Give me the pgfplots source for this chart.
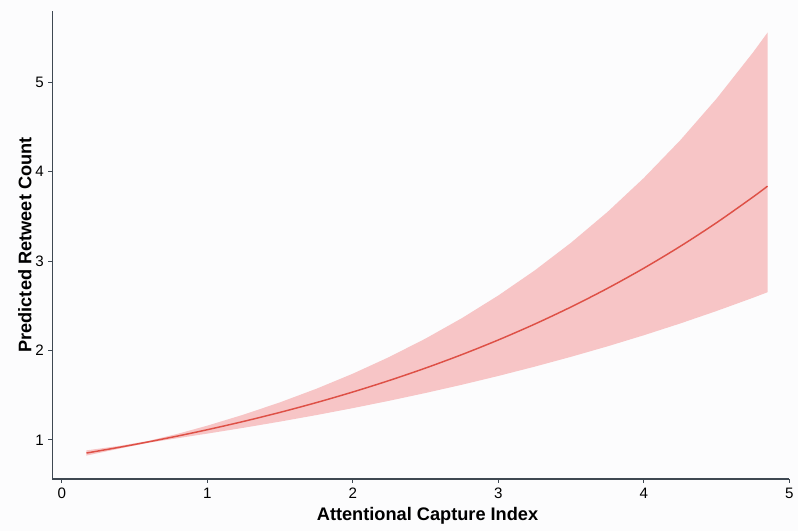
\documentclass[border=0pt]{standalone}
\usepackage{fontspec}
\setmainfont{Liberation Sans}
\usepackage{pgfplots}
\pgfplotsset{compat=1.18}
\usepgfplotslibrary{fillbetween}
\definecolor{bandpink}{RGB}{247,197,198}
\definecolor{linered}{RGB}{222,80,70}
\definecolor{axisgray}{RGB}{62,72,82}
\definecolor{bg}{RGB}{252,252,253}
\pagecolor{bg}
\begin{document}
\begin{tikzpicture}
\path (-39.5pt,-39pt) rectangle (559pt,360.75pt);
\begin{axis}[
  at={(0pt,0pt)}, anchor=south west,
  scale only axis=true,
  width=555pt, height=352.5pt,
  xmin=-0.064, xmax=5.0, ymin=0.562, ymax=5.80,
  axis x line*=bottom, axis y line*=left,
  axis line style={axisgray, line width=0.9pt},
  every tick/.style={axisgray, line width=0.9pt},
  tick align=outside, major tick length=3pt,
  xtick={0,1,2,3,4,5}, ytick={1,2,3,4,5},
  minor tick num=0,
  /pgf/number format/assume math mode=true,
  ticklabel style={font=\fontsize{11.4}{13}\selectfont, text=black},
  xlabel={\textbf{Attentional Capture Index}},
  ylabel={\textbf{Predicted Retweet Count}},
  every axis x label/.style={at={(axis description cs:0.5,0)}, anchor=center, yshift=-27.5pt, xshift=5pt, font=\fontsize{13.7}{16}\selectfont},
  every axis y label/.style={at={(axis description cs:0,0.5)}, rotate=90, anchor=center, yshift=20.8pt, font=\fontsize{13.7}{16}\selectfont},
]
\addplot[name path=up, draw=none, forget plot] coordinates {
(0.17,0.8824) (0.4,0.9332) (0.6,0.9899) (0.8,1.0692) (1.0,1.1589) (1.25,1.2826)
(1.5,1.4199) (1.75,1.5720) (2.0,1.7404) (2.25,1.9269) (2.5,2.1335) (2.75,2.3624)
(3.0,2.6157) (3.25,2.8959) (3.5,3.2066) (3.75,3.5503) (4.0,3.9311) (4.25,4.3525)
(4.5,4.8191) (4.75,5.3355) (4.85,5.5578)};
\addplot[name path=lo, draw=none, forget plot] coordinates {
(0.17,0.8240) (0.4,0.9033) (0.6,0.9685) (0.8,1.0196) (1.0,1.0698) (1.25,1.1353)
(1.5,1.2044) (1.75,1.2775) (2.0,1.3551) (2.25,1.4375) (2.5,1.5247) (2.75,1.6170)
(3.0,1.7152) (3.25,1.8194) (3.5,1.9297) (3.75,2.0465) (4.0,2.1708) (4.25,2.3025)
(4.5,2.4423) (4.75,2.5903) (4.85,2.6522)};
\addplot[fill=bandpink, draw=none, forget plot] fill between[of=up and lo];
\addplot[linered, line width=1.1pt, smooth] coordinates {
(0.17,0.8527) (0.4,0.9181) (0.6,0.9791) (0.8,1.0441) (1.0,1.1135) (1.25,1.2067)
(1.5,1.3077) (1.75,1.4171) (2.0,1.5357) (2.25,1.6643) (2.5,1.8036) (2.75,1.9545)
(3.0,2.1181) (3.25,2.2954) (3.5,2.4875) (3.75,2.6955) (4.0,2.9212) (4.25,3.1657)
(4.5,3.4307) (4.75,3.7176) (4.85,3.8393)};
\end{axis}
\end{tikzpicture}
\end{document}
